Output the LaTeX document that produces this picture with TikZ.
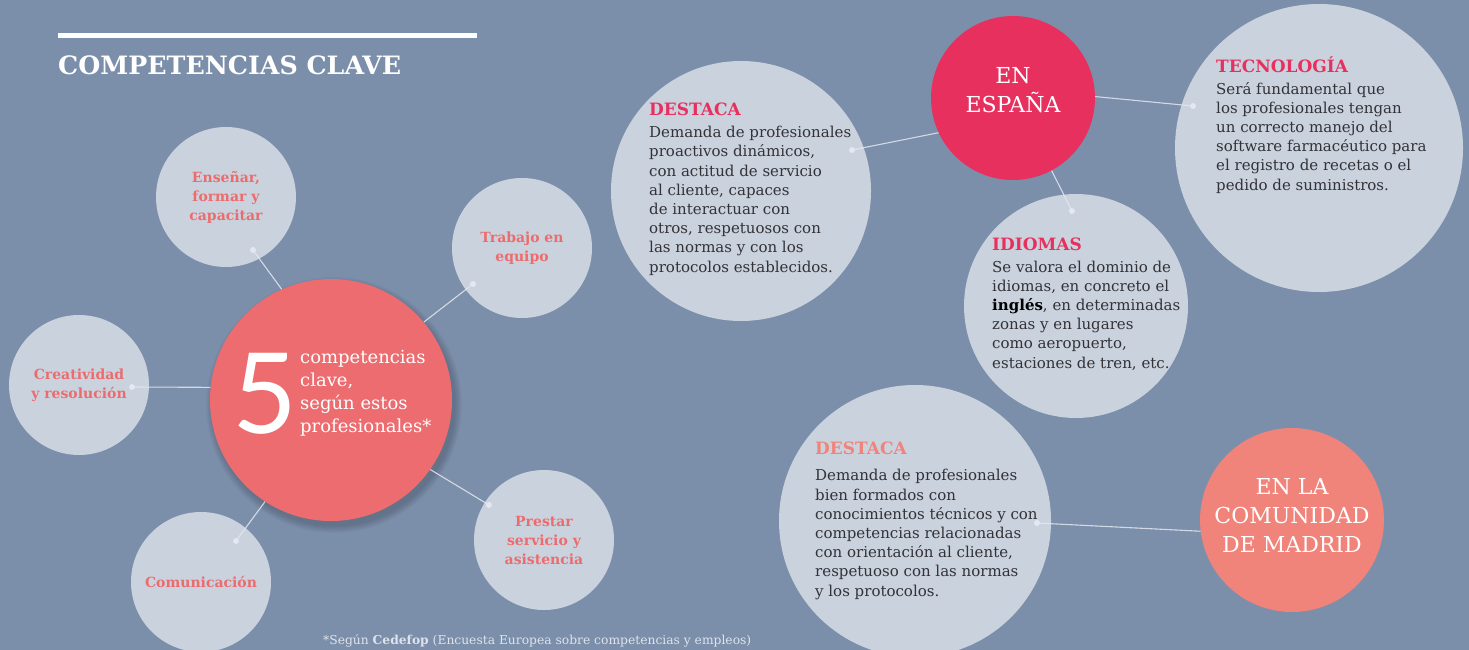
\documentclass[tikz,border=0pt]{standalone}
\usepackage{fontspec}
\setmainfont{DejaVu Serif}
\newfontfamily\digitfont{Lato}
\definecolor{bgc}{RGB}{123,143,170}
\definecolor{lightc}{RGB}{202,210,222}
\definecolor{coralc}{RGB}{236,108,112}
\definecolor{crimsonc}{RGB}{232,48,95}
\definecolor{salmonc}{RGB}{240,131,122}
\definecolor{labelc}{RGB}{236,108,110}
\definecolor{bodyc}{RGB}{50,50,55}
\definecolor{linec}{RGB}{228,232,240}
\definecolor{notec}{RGB}{222,227,236}
\begin{document}
\begin{tikzpicture}[x=1pt,y=-1pt,
  bubble/.style={circle,fill=lightc,inner sep=0pt,minimum size=#1,text=labelc,align=center,font=\fontsize{14}{19}\selectfont\bfseries},
  hub/.style={circle,inner sep=0pt,minimum size=#1},
  conn/.style={draw=linec,line width=1.1pt,opacity=0.85},
  dotc/.style={fill=linec},
  body/.style={anchor=base west,inner sep=0pt,align=left,text=bodyc,font=\fontsize{15}{19.2}\selectfont},
  hubtext/.style={anchor=base,inner sep=0pt,text=white,align=center,font=\fontsize{22}{29}\selectfont}]
\path[fill=bgc,use as bounding box] (0,0) rectangle (1469,650);

% title
\draw[white,line width=5pt] (58,35.5) -- (477,35.5);
\node[anchor=base west,inner sep=0pt,text=white,font=\fontsize{25.3}{30}\selectfont\bfseries] (title) at (58,75) {COMPETENCIAS CLAVE};

% left cluster
\node[bubble=140pt] (ens) at (226,197) {Enseñar,\\formar y\\capacitar};
\node[bubble=140pt] (trab) at (522,248) {Trabajo en\\equipo};
\node[bubble=140pt] (crea) at (79,385) {Creatividad\\y resolución};
\node[bubble=140pt] (comu) at (201,582) {Comunicación};
\node[bubble=140pt] (pres) at (544,540) {Prestar\\servicio y\\asistencia};

\foreach \i in {1,...,8} \fill[black,opacity=0.025] (334,405) circle ({120+\i});
\node[hub=242pt,fill=coralc] (main) at (331,400) {};
\node[anchor=base,inner sep=0pt,text=white,font=\fontsize{112}{112}\selectfont\digitfont] (five) at (265,433) {5};
\node[anchor=base west,inner sep=0pt,text=white,align=left,font=\fontsize{18}{22.7}\selectfont] (maintext) at (300,432) {competencias\\clave,\\según estos\\profesionales*};

\coordinate (dEns) at (253,250);
\coordinate (dTrab) at (473,284);
\coordinate (dCrea) at (132,387);
\coordinate (dComu) at (236,541);
\coordinate (dPres) at (489,505);
\draw[conn] (dEns) -- (main.114);
\draw[conn] (dTrab) -- (main.40);
\draw[conn] (dCrea) -- (main.174);
\draw[conn] (dComu) -- (main.237);
\draw[conn] (dPres) -- (main.325);
\foreach \d in {dEns,dTrab,dCrea,dComu,dPres} \fill[dotc] (\d) circle (3);

\node[anchor=base west,inner sep=0pt,text=notec,font=\fontsize{12.3}{14}\selectfont] (note) at (323,644) {*Según \textbf{Cedefop} (Encuesta Europea sobre competencias y empleos)};

% right cluster
\node[hub=260pt,fill=lightc] (dest1) at (741,191) {};
\node[body] (dest1t) at (649,272) {{\fontsize{17}{19}\selectfont\bfseries\color{crimsonc}DESTACA}\\[2.8pt]
Demanda de profesionales\\proactivos dinámicos,\\con actitud de servicio\\al cliente, capaces\\de interactuar con\\otros, respetuosos con\\las normas y con los\\protocolos establecidos.};

\node[hub=164pt,fill=crimsonc] (esp) at (1013,98) {};
\node[hubtext] (espt) at (1013,113) {EN\\ESPAÑA};

\node[hub=288pt,fill=lightc] (tec) at (1319,148) {};
\node[body] (tect) at (1216,190) {{\fontsize{17}{19}\selectfont\bfseries\color{crimsonc}TECNOLOGÍA}\\[2pt]
Será fundamental que\\los profesionales tengan\\un correcto manejo del\\software farmacéutico para\\el registro de recetas o el\\pedido de suministros.};

\node[hub=224pt,fill=lightc] (idi) at (1076,306) {};
\node[body] (idit) at (992,368) {{\fontsize{17}{19}\selectfont\bfseries\color{crimsonc}IDIOMAS}\\[2pt]
Se valora el dominio de\\idiomas, en concreto el\\{\bfseries\color{black}inglés}, en determinadas\\zonas y en lugares\\como aeropuerto,\\estaciones de tren, etc.};

\node[hub=272pt,fill=lightc] (dest2) at (915,521) {};
\node[body] (dest2t) at (815,596) {{\fontsize{17}{19}\selectfont\bfseries\color{salmonc}DESTACA}\\[7pt]
Demanda de profesionales\\bien formados con\\conocimientos técnicos y con\\competencias relacionadas\\con orientación al cliente,\\respetuoso con las normas\\y los protocolos.};

\node[hub=184pt,fill=salmonc] (mad) at (1292,520) {};
\node[hubtext] (madt) at (1292,552) {EN LA\\COMUNIDAD\\DE MADRID};

\coordinate (dDest1) at (852,150);
\coordinate (dTec) at (1193,106);
\coordinate (dIdi) at (1072,211);
\coordinate (dDest2) at (1037,523);
\draw[conn] (dDest1) -- (esp.205);
\draw[conn] (dTec) -- (esp.1);
\draw[conn] (dIdi) -- (esp.298);
\draw[conn] (dDest2) -- (mad.187);
\foreach \d in {dDest1,dTec,dIdi,dDest2} \fill[dotc] (\d) circle (3);
\end{tikzpicture}
\end{document}
